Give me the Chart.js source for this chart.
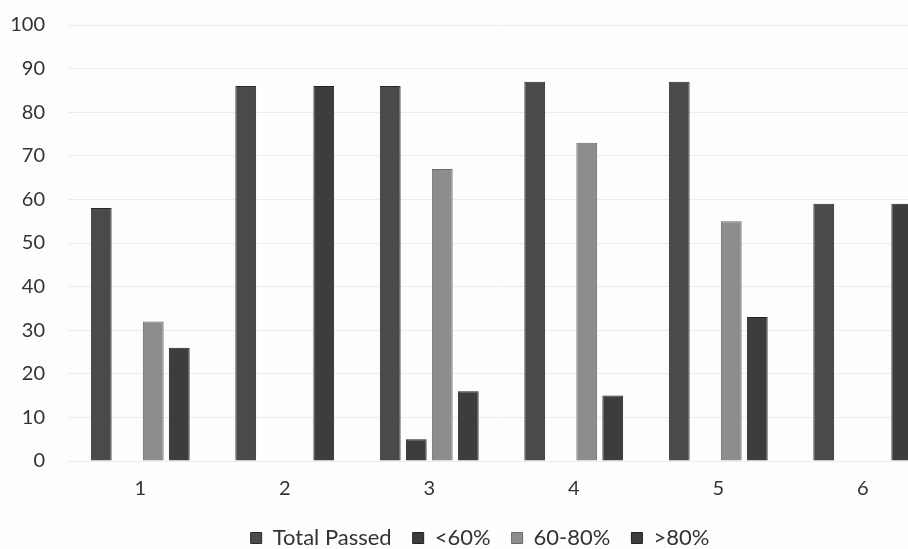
<!DOCTYPE html>
<html>
<head>
<meta charset="utf-8">
<script src="https://cdn.jsdelivr.net/npm/chart.js@4.4.0/dist/chart.umd.min.js"></script>
<style>
  html, body { margin: 0; padding: 0; background: #fdfdfb; overflow: hidden; }
  #wrap { width: 960px; height: 559px; }
</style>
</head>
<body>
<div id="wrap"><canvas id="passChart"></canvas></div>
<script>
const categories = ["1", "2", "3", "4", "5", "6"];
const totalPassed = [58, 86, 86, 87, 87, 59];
const below60 = [0, 0, 5, 0, 0, 0];
const from60to80 = [32, 0, 67, 73, 55, 0];
const above80 = [26, 86, 16, 15, 33, 59];
const yTicks = [0, 10, 20, 30, 40, 50, 60, 70, 80, 90, 100];

let ctx = document.getElementById("passChart").getContext("2d");

function series(label, data, fill, edge) {
    return {
        label: label,
        data: data,
        backgroundColor: fill,
        borderColor: edge,
        borderWidth: 1,
        categoryPercentage: 0.72,
        barPercentage: 0.8
    };
}

// legend sits a bit right of the plot centre in the original
const nudgeLegend = {
    id: "nudgeLegend",
    afterLayout(chart) {
        chart.legend.left += 18;
        chart.legend.right += 18;
    }
};

let passChart = new Chart(ctx, {
    type: "bar",
    data: {
        labels: categories,
        datasets: [
            series("Total Passed", totalPassed, "#4a4a4a", "#2a2a2a"),
            series("<60%", below60, "#3c3c3c", "#222"),
            series("60-80%", from60to80, "#8d8d8d", "#6a6a6a"),
            series(">80%", above80, "#3d3d3d", "#222")
        ]
    },
    plugins: [nudgeLegend],
    options: {
        responsive: true,
        maintainAspectRatio: false,
        animation: false,
        layout: { padding: { top: 4, right: 25, left: 0, bottom: 0 } },
        plugins: {
            tooltip: { enabled: false },
            legend: {
                position: "bottom",
                labels: {
                    color: "#333",
                    font: { family: "Lato", size: 22 },
                    boxWidth: 11,
                    boxHeight: 11,
                    padding: 10,
                    generateLabels: function (chart) {
                        let items = Chart.defaults.plugins.legend.labels.generateLabels(chart);
                        items.forEach(it => { it.text = it.text + "\u2002"; });
                        return items;
                    }
                }
            }
        },
        scales: {
            x: {
                grid: { display: false, drawTicks: false },
                border: { display: false },
                ticks: { color: "#333", font: { family: "Lato", size: 20 }, padding: 16 }
            },
            y: {
                min: 0,
                max: 100,
                afterBuildTicks: function (axis) {
                    axis.ticks = yTicks.map(v => ({ value: v }));
                },
                afterFit: function (axis) { axis.width = 68; },
                grid: { color: "#ececec", drawTicks: true, tickLength: 10, tickColor: "rgba(0,0,0,0)" },
                border: { display: false },
                ticks: { color: "#333", font: { family: "Lato", size: 20 }, padding: 13 }
            }
        }
    }
});
</script>
</body>
</html>
